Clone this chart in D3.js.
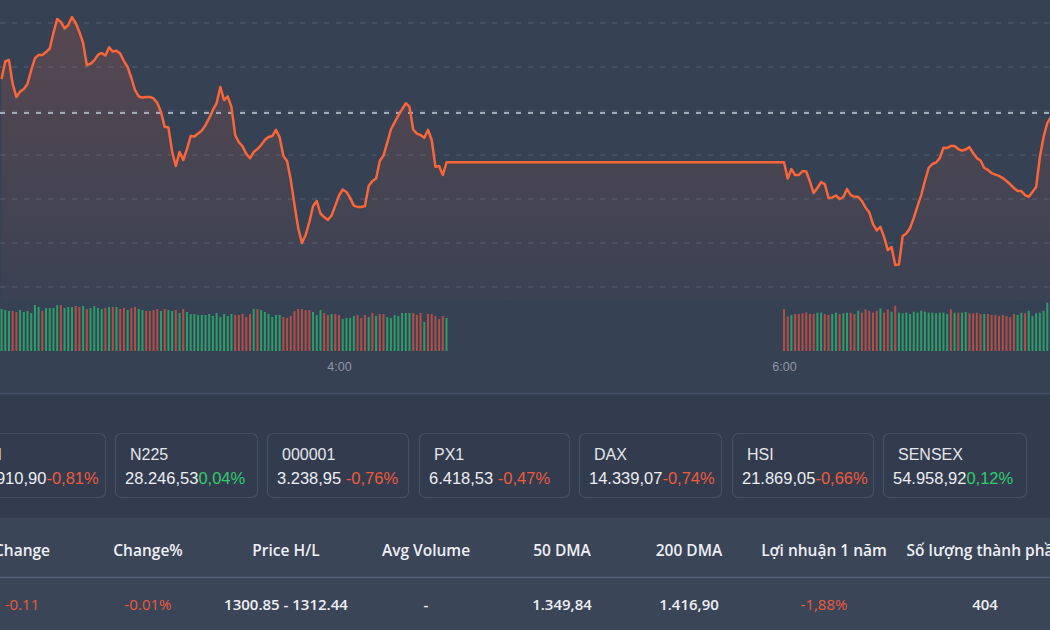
<!DOCTYPE html>
<html>
<head>
<meta charset="utf-8">
<script src="https://cdn.jsdelivr.net/npm/d3@7"></script>
<style>
  html, body { margin: 0; padding: 0; background: #374154; overflow: hidden; }
  svg { display: block; }
</style>
</head>
<body>
<svg id="canvas" width="1050" height="630"></svg>
<script>
// intraday index, one point per minute (morning session, then afternoon session)
const amStart = '02:29';
const pmStart = '06:00';

const amPrices = [
  1309.45, 1310.25, 1310.32, 1309.23, 1308.64, 1308.88, 1309.00, 1309.23, 1309.86, 1310.39,
  1310.55, 1310.55, 1310.68, 1310.84, 1311.55, 1312.18, 1312.05, 1311.75, 1311.91, 1312.27,
  1312.00, 1311.59, 1311.09, 1310.09, 1310.15, 1310.30, 1310.55, 1310.64, 1310.52, 1310.89,
  1310.70, 1310.74, 1310.61, 1310.27, 1310.00, 1309.50, 1308.95, 1308.66, 1308.61, 1308.64,
  1308.64, 1308.57, 1308.36, 1307.95, 1307.28, 1307.25, 1306.16, 1305.50, 1306.14, 1305.77,
  1306.27, 1306.86, 1306.84, 1306.98, 1307.11, 1307.36, 1307.68, 1308.05, 1308.36, 1309.09,
  1308.50, 1308.66, 1308.18, 1306.91, 1306.58, 1306.39, 1306.05, 1305.85, 1306.14, 1306.27,
  1306.45, 1306.68, 1306.82, 1306.86, 1307.14, 1306.80, 1305.95, 1305.73, 1304.86, 1303.73,
  1302.68, 1302.00, 1302.36, 1302.95, 1303.68, 1303.91, 1303.34, 1303.18, 1303.05, 1303.25,
  1303.70, 1304.16, 1304.43, 1304.32, 1304.05, 1303.70, 1303.64, 1303.64, 1303.68, 1304.59,
  1304.82, 1304.93, 1305.73, 1305.98, 1306.55, 1307.16, 1307.48, 1307.80, 1308.07, 1308.35,
  1308.20, 1307.16, 1306.97, 1306.91, 1306.78, 1307.14, 1306.68, 1305.47, 1305.50, 1305.09,
  1305.67
];
const pmPrices = [
  1305.67, 1304.93, 1305.36, 1305.09, 1305.09, 1305.27, 1305.25, 1304.79, 1304.27, 1304.50,
  1304.77, 1304.68, 1304.05, 1304.07, 1304.16, 1304.00, 1304.09, 1304.45, 1304.18, 1304.10,
  1304.10, 1303.91, 1303.61, 1303.39, 1302.86, 1302.57, 1302.73, 1302.27, 1301.68, 1301.82,
  1301.00, 1301.02, 1302.32, 1302.43, 1302.68, 1303.14, 1303.68, 1304.18, 1304.82, 1305.41,
  1305.59, 1305.66, 1305.86, 1306.33, 1306.32, 1306.41, 1306.41, 1306.27, 1306.20, 1306.25,
  1306.36, 1306.09, 1305.86, 1305.75, 1305.41, 1305.32, 1305.18, 1305.11, 1305.05, 1304.95,
  1304.82, 1304.67, 1304.50, 1304.36, 1304.36, 1304.18, 1304.10, 1304.32, 1304.55, 1305.91,
  1306.83, 1307.45, 1307.73
];

// volume per minute (thousand) and bar direction: G = up, R = down
const amVolumes = [
  420, 410, 400, 400, 390, 410, 390, 400, 380, 460, 440,
  400, 430, 430, 430, 460, 460, 430, 440, 440, 450,
  440, 450, 420, 430, 450, 430, 420, 430, 440, 440, 440,
  420, 430, 410, 430, 440, 420, 410, 400, 400, 410, 420, 400,
  420, 410, 400, 410, 380, 420, 390,
  370, 370, 360, 360, 360, 370, 350, 380, 340, 370, 350, 370,
  360, 360, 370, 340, 370, 420, 420, 410,
  390, 370, 340, 360, 360, 340,
  330, 350, 400, 420, 420, 410,
  410, 390, 360, 410, 380,
  360, 370, 370, 360, 320,
  330, 330, 350, 360, 330,
  360, 340, 380, 350, 370, 370, 340,
  330, 360, 350, 380, 380, 380,
  380, 360, 380, 290, 370, 370,
  350, 320, 350, 330
];
const amDirs = 'GGGRRGGGGGG' + 'RGGGGRGGGR' + 'RGRGGGGRGRG' + 'RRGRRGGRRRRG' + 'RGGRGRG' +
  'GGGGGGGGGGGG' + 'RRRRRGRG' + 'GGGGGR' + 'RRRRRR' + 'RGGGR' + 'RGRRG' + 'GGGRR' +
  'RGRGRRG' + 'GGGGGG' + 'RRRGRR' + 'RRRG';
const pmVolumes = [
  417, 343, 360, 370, 370, 377, 387, 370, 370, 383,
  383, 370, 360, 370, 383, 370, 377, 383, 383, 370,
  403, 383, 417, 403, 383, 403, 427, 383, 417, 393,
  453, 383, 377, 383, 370,
  393, 383, 403, 393,
  383, 383, 377, 383, 383, 370, 417, 383, 383, 383,
  390, 377, 377, 383, 370, 370, 370, 360, 360, 350,
  360, 350, 337, 370, 360, 383, 377, 403, 350, 377,
  383, 403, 483
];
const pmDirs = 'RRGRRRRRRG' + 'GRRGGRGGRR' + 'GRRRRRGRRG' + 'RGGGG' + 'GGGG' +
  'GGGGGGRGRG' + 'GRRRRGRRRR' + 'RRRRGGRGGG' + 'GGG';

const priceTicks = [1300, 1302, 1304, 1306, 1308, 1310, 1312];
const prevClose = 1307.91;
const timeTicks = ['04:00', '06:00'];

// index cards
const cardNames = ['DJI', 'N225', '000001', 'PX1', 'DAX', 'HSI', 'SENSEX'];
const cardValues = ['34.910,90', '28.246,53', '3.238,95 ', '6.418,53 ', '14.339,07', '21.869,05', '54.958,92'];
const cardChanges = ['-0,81%', '0,04%', '-0,76%', '-0,47%', '-0,74%', '-0,66%', '0,12%'];

// stats table
const tableHeaders = ['Change', 'Change%', 'Price H/L', 'Avg Volume', '50 DMA', '200 DMA', 'Lợi nhuận 1 năm', 'Số lượng thành phần'];
const tableValues = ['-0.11', '-0.01%', '1300.85 - 1312.44', '-', '1.349,84', '1.416,90', '-1,88%', '404'];
const tableNegative = [true, true, false, false, false, false, true, false];

const W = 1050, H = 630;
const svg = d3.select('#canvas');
const parse = d3.timeParse('%H:%M');

const series = [];
amPrices.forEach((p, i) => series.push({ t: d3.timeMinute.offset(parse(amStart), i), p }));
pmPrices.forEach((p, i) => series.push({ t: d3.timeMinute.offset(parse(pmStart), i), p }));
const bars = [];
amVolumes.forEach((v, i) => bars.push({ t: d3.timeMinute.offset(parse(amStart), i), v, up: amDirs[i] === 'G' }));
pmVolumes.forEach((v, i) => bars.push({ t: d3.timeMinute.offset(parse(pmStart), i), v, up: pmDirs[i] === 'G' }));

const x = d3.scaleTime().domain([parse('04:00'), parse('06:00')]).range([339, 784]);
const y = d3.scaleLinear().domain([1300, 1312]).range([287, 23]);
const yVol = d3.scaleLinear().domain([0, 500]).range([351, 301]);

// panel backgrounds
svg.append('rect').attr('x', 0).attr('y', 0).attr('width', W).attr('height', 394).attr('fill', '#374154');
svg.append('rect').attr('x', 0).attr('y', 394).attr('width', W).attr('height', 124).attr('fill', '#323c4e');
svg.append('rect').attr('x', 0).attr('y', 518).attr('width', W).attr('height', 112).attr('fill', '#3a4558');
svg.append('line').attr('x1', 0).attr('x2', W).attr('y1', 393.5).attr('y2', 393.5)
  .attr('stroke', '#465168').attr('stroke-width', 1.5);

const defs = svg.append('defs');
const grad = defs.append('linearGradient').attr('id', 'areaFill')
  .attr('gradientUnits', 'userSpaceOnUse').attr('x1', 0).attr('x2', 0).attr('y1', 10).attr('y2', 300);
grad.append('stop').attr('offset', 0).attr('stop-color', '#ff6a3d').attr('stop-opacity', 0.16);
grad.append('stop').attr('offset', 1).attr('stop-color', '#ff6a3d').attr('stop-opacity', 0.02);

// grid
svg.append('g').selectAll('line').data(priceTicks).join('line')
  .attr('x1', 0).attr('x2', W)
  .attr('y1', d => y(d)).attr('y2', d => y(d))
  .attr('stroke', '#4b566b').attr('stroke-width', 1.5).attr('stroke-dasharray', '5,7');

// price area + line
svg.append('path').datum(series)
  .attr('fill', 'url(#areaFill)')
  .attr('d', d3.area().x(d => x(d.t)).y0(300).y1(d => y(d.p)));

svg.append('line').attr('x1', 0).attr('x2', W)
  .attr('y1', y(prevClose)).attr('y2', y(prevClose))
  .attr('stroke', '#a3abb8').attr('stroke-width', 2).attr('stroke-dasharray', '5,7');

svg.append('path').datum(series)
  .attr('fill', 'none').attr('stroke', '#fb6638').attr('stroke-width', 2.5)
  .attr('stroke-linejoin', 'round')
  .attr('d', d3.line().x(d => x(d.t)).y(d => y(d.p)));

// volume bars
svg.append('g').selectAll('rect').data(bars).join('rect')
  .attr('x', d => x(d.t) - 1).attr('width', 2)
  .attr('y', d => yVol(d.v)).attr('height', d => yVol(0) - yVol(d.v))
  .attr('fill', d => d.up ? '#2c9d68' : '#b04f45');

// time axis
const axis = svg.append('g').attr('transform', 'translate(0,354)')
  .call(d3.axisBottom(x).tickValues(timeTicks.map(parse)).tickSize(0).tickPadding(8)
    .tickFormat(d3.timeFormat('%-H:%M')));
axis.select('.domain').remove();
axis.selectAll('text').attr('fill', '#8d96a5').style('font-family', '"Liberation Sans", Arial, sans-serif')
  .style('font-size', '12.5px');

// cards (flex row, PX1 box a bit wider)
const cardLeft = [-37, 115, 267, 419, 579, 732, 883];
const cardWidth = [142, 142, 141, 150, 142, 141, 143];
const cards = svg.append('g').selectAll('g').data(cardNames).join('g')
  .attr('transform', (d, i) => `translate(${cardLeft[i]},433)`);
cards.append('rect').attr('x', 0.5).attr('y', 0.5).attr('width', (d, i) => cardWidth[i]).attr('height', 64)
  .attr('rx', 6).attr('fill', '#323c4e').attr('stroke', '#444f64').attr('stroke-width', 1.2);
cards.append('text').attr('x', 15).attr('y', 27)
  .attr('fill', '#e4e6ea').style('font-family', '"Liberation Sans", Arial, sans-serif').style('font-size', '16px')
  .text(d => d);
const vt = cards.append('text').attr('x', 10).attr('y', 51)
  .style('font-family', '"Liberation Sans", Arial, sans-serif').style('font-size', '16.5px');
vt.append('tspan').attr('fill', '#eceef1').style('white-space', 'pre').text((d, i) => cardValues[i]);
vt.append('tspan').attr('fill', (d, i) => cardChanges[i].startsWith('-') ? '#ee5a3c' : '#2fcc6c')
  .text((d, i) => cardChanges[i]);

// table
const colX = [22, 148, 286, 426, 562, 689, 824, 985];
svg.append('line').attr('x1', 0).attr('x2', W).attr('y1', 577.5).attr('y2', 577.5)
  .attr('stroke', '#566177').attr('stroke-width', 1.5);
svg.append('g').selectAll('text').data(tableHeaders).join('text')
  .attr('x', (d, i) => colX[i]).attr('y', 556).attr('text-anchor', 'middle')
  .attr('fill', '#eef0f3').style('font-family', '"Open Sans", "Noto Sans", sans-serif')
  .style('font-size', '15.5px').style('font-weight', 600)
  .text(d => d);
svg.append('g').selectAll('text').data(tableValues).join('text')
  .attr('x', (d, i) => colX[i]).attr('y', 610).attr('text-anchor', 'middle')
  .attr('fill', (d, i) => tableNegative[i] ? '#ec5a3c' : '#eef0f3')
  .style('font-family', '"Open Sans", "Noto Sans", sans-serif')
  .style('font-size', '15px').style('font-weight', (d, i) => tableNegative[i] ? 400 : 600)
  .text(d => d);
</script>
</body>
</html>
